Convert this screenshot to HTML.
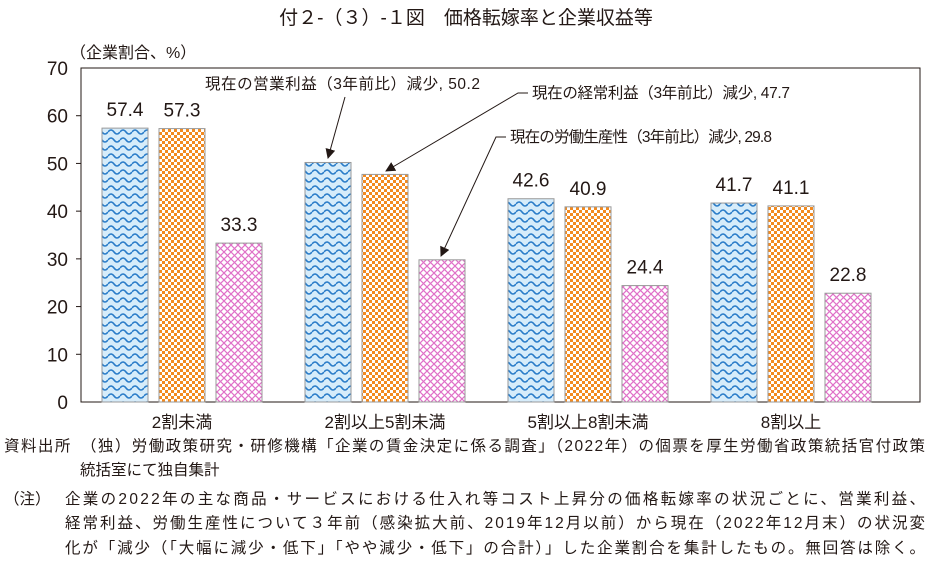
<!DOCTYPE html>
<html><head><meta charset="utf-8"><style>
body{margin:0;background:#fff;width:933px;height:563px;overflow:hidden;font-family:"Liberation Sans","Noto Sans CJK JP",sans-serif;color:#231815}
</style></head><body>
<svg width="933" height="563" style="position:absolute;left:0;top:0" font-family="Liberation Sans, Noto Sans CJK JP, sans-serif" fill="#231815">
<defs>
<pattern id="pb" width="12" height="8" patternUnits="userSpaceOnUse"><rect width="12" height="8" fill="#d6ecfa"/><path d="M0 4 Q3 0 6 4 T12 4" fill="none" stroke="#2a7cc8" stroke-width="1.6"/></pattern>
<pattern id="po" width="6" height="6" patternUnits="userSpaceOnUse"><rect width="6" height="6" fill="#f28a20"/><rect width="3" height="3" fill="#fff"/><rect x="3" y="3" width="3" height="3" fill="#fff"/></pattern>
<pattern id="pp" width="7" height="7" patternUnits="userSpaceOnUse"><rect width="7" height="7" fill="#fff"/><path d="M0 0L7 7M7 0L0 7" stroke="#e070c8" stroke-width="1.2"/></pattern>
<marker id="ar" markerWidth="10" markerHeight="10" refX="9" refY="5" orient="auto" markerUnits="userSpaceOnUse"><path d="M0 0L10 5L0 10Z" fill="#231815"/></marker>
</defs>
<text x="466" y="24" font-size="19" text-anchor="middle">付２-（３）-１図　価格転嫁率と企業収益等</text>
<text x="70" y="58" font-size="16">（企業割合、%）</text>
<rect x="81" y="68" width="839" height="334" fill="none" stroke="#231815" stroke-width="1"/>
<g id="ax"></g><g id="bars"></g>
<g font-size="15.5">
<text x="205" y="89" textLength="275">現在の営業利益（3年前比）減少, 50.2</text>
<line x1="345" y1="97" x2="328" y2="158" stroke="#231815" marker-end="url(#ar)"/>
<text x="532" y="98" textLength="258">現在の経常利益（3年前比）減少, 47.7</text>
<polyline points="528,93 518,93 386,171" fill="none" stroke="#231815" marker-end="url(#ar)"/>
<text x="510" y="142" textLength="262">現在の労働生産性（3年前比）減少, 29.8</text>
<polyline points="506,137 496,137 441,256" fill="none" stroke="#231815" marker-end="url(#ar)"/>
</g>
<g font-size="15.5">
<text x="4" y="451" textLength="921">資料出所　（独）労働政策研究・研修機構「企業の賃金決定に係る調査」（2022年）の個票を厚生労働省政策統括官付政策</text>
<text x="80" y="475">統括室にて独自集計</text>
</g>
<g font-size="15.5">
<text x="4" y="504">（注）</text>
<text x="65" y="504" textLength="860">企業の2022年の主な商品・サービスにおける仕入れ等コスト上昇分の価格転嫁率の状況ごとに、営業利益、</text>
<text x="65" y="528" textLength="860">経常利益、労働生産性について３年前（感染拡大前、2019年12月以前）から現在（2022年12月末）の状況変</text>
<text x="65" y="553" textLength="860">化が「減少（「大幅に減少・低下」「やや減少・低下」の合計）」した企業割合を集計したもの。無回答は除く。</text>
</g>
</svg>
<script>
const categories=["2割未満","2割以上5割未満","5割以上8割未満","8割以上"];
const operating=[57.4,50.2,42.6,41.7];
const ordinary=[57.3,47.7,40.9,41.1];
const productivity=[33.3,29.8,24.4,22.8];
const showLabel=[[true,false,true,true],[true,false,true,true],[true,false,true,true]];
const yTicks=[0,10,20,30,40,50,60,70];
const NS="http://www.w3.org/2000/svg";
const y=v=>402-v*334/70;
const cx=i=>182+i*203;
const ax=document.getElementById('ax'),bg=document.getElementById('bars');
function mk(tag,at,p){const e=document.createElementNS(NS,tag);for(const k in at)e.setAttribute(k,at[k]);p.appendChild(e);return e;}
yTicks.forEach(t=>{
 const tx=mk('text',{x:68,y:y(t)+7,'font-size':19,'text-anchor':'end'},ax);tx.textContent=t;
 
 
 if(t>0&&t<70){const l=mk('line',{x1:76,x2:81,y1:y(t),y2:y(t),stroke:'#231815'},ax);
 
 }
});
categories.forEach((c,i)=>{const tx=mk('text',{x:cx(i),y:428,'font-size':17,'text-anchor':'middle'},ax);tx.textContent=c;
 
 });
const series=[[operating,'url(#pb)','operating'],[ordinary,'url(#po)','ordinary'],[productivity,'url(#pp)','productivity']];
series.forEach(([d,f,n],s)=>{d.forEach((v,i)=>{
 const x=cx(i)+(s-1)*57-23;
 const r=mk('rect',{x:x,y:y(v),width:46,height:402-y(v),fill:f,stroke:'#999','stroke-width':1},bg);
 
 
 if(showLabel[s][i]){const t=mk('text',{x:x+23,y:y(v)-12,'font-size':19,'text-anchor':'middle'},bg);t.textContent=v.toFixed(1);
 
 }
});});
</script>
</body></html>
